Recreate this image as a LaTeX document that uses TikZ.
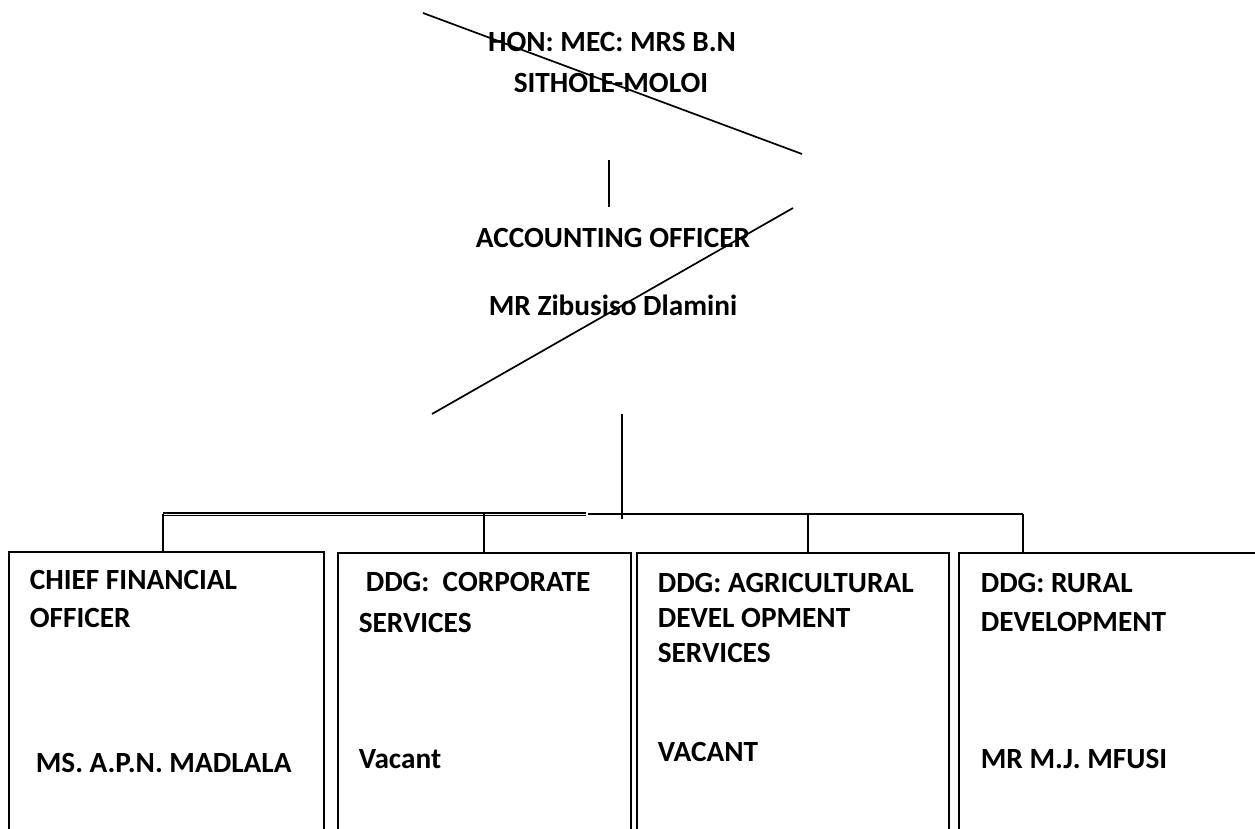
\documentclass[tikz,border=0pt]{standalone}
\usepackage{fontspec}
\setmainfont{Carlito}
\begin{document}
\begin{tikzpicture}[x=1pt,y=-1pt,line width=1.6pt,
  lbl/.style={inner sep=0pt,anchor=base west,font=\fontsize{29.3}{35}\selectfont\bfseries},
  toplbl/.style={inner sep=0pt,anchor=base,font=\fontsize{29.3}{35}\selectfont\bfseries},
  orgbox/.style={draw,line width=1.7pt,inner sep=0pt,anchor=north west,minimum height=320pt},
  conn/.style={line width=1.6pt},
  strike/.style={line width=1.7pt}]
\useasboundingbox (0,0) rectangle (1255,829);
\clip (0,0) rectangle (1255,829);
% top texts
\node[toplbl] (mec1) at (612,52) {HON: MEC: MRS B.N};
\node[toplbl] (mec2) at (611,93) {SITHOLE-MOLOI};
\node[toplbl] (ao1) at (613,247) {ACCOUNTING OFFICER};
\node[toplbl] (ao2) at (613,315) {MR Zibusiso Dlamini};
% strike lines
\draw[strike] (423,13) -- (802,154);
\draw[strike] (432,414) -- (793,208);
% boxes
\node[orgbox,minimum width=315pt] (cfo) at (8,551) {};
\node[orgbox,minimum width=293pt] (ddgcs) at (337,552) {};
\node[orgbox,minimum width=312pt] (ddgads) at (636,552) {};
\node[orgbox,minimum width=320pt] (ddgrd) at (958,552) {};
% connectors
\coordinate (va) at (609,160);
\coordinate (vb) at (609,207);
\draw[conn] (va) -- (vb);
\coordinate (aob) at (622,414);
\coordinate (bus0) at (622,519);
\draw[conn] (aob) -- (bus0);
\coordinate (b1) at (163,514);
\coordinate (bm) at (586,514);
\coordinate (bm2) at (588,514);
\coordinate (b2) at (484,514);
\coordinate (b3) at (808,514);
\coordinate (b4) at (1023,514);
\draw[line width=1.1pt,double,double distance=0.9pt] (b1) -- (bm);
\draw[conn] (bm2) -- (b4);
\draw[conn] (b1) -- (b1 |- cfo.north);
\draw[conn] (b2) -- (b2 |- ddgcs.north);
\draw[conn] (b3) -- (b3 |- ddgads.north);
\draw[conn] (b4) -- (b4 |- ddgrd.north);
% box texts
\node[lbl] (cfo1) at (29,589) {CHIEF FINANCIAL};
\node[lbl] (cfo2) at (29,627) {OFFICER};
\node[lbl] (cfo3) at (35,772) {MS. A.P.N. MADLALA};
\node[lbl] (cs1) at (365,591) {DDG:\ \ CORPORATE};
\node[lbl] (cs2) at (358,632) {SERVICES};
\node[lbl] (cs3) at (358,768) {Vacant};
\node[lbl] (ads1) at (657,592) {DDG: AGRICULTURAL};
\node[lbl] (ads2) at (657,627) {DEVEL OPMENT};
\node[lbl] (ads3) at (657,662) {SERVICES};
\node[lbl] (ads4) at (657,761) {VACANT};
\node[lbl] (rd1) at (980,592) {DDG: RURAL};
\node[lbl] (rd2) at (980,631) {DEVELOPMENT};
\node[lbl] (rd3) at (980,768) {MR M.J. MFUSI};
\end{tikzpicture}
\end{document}
